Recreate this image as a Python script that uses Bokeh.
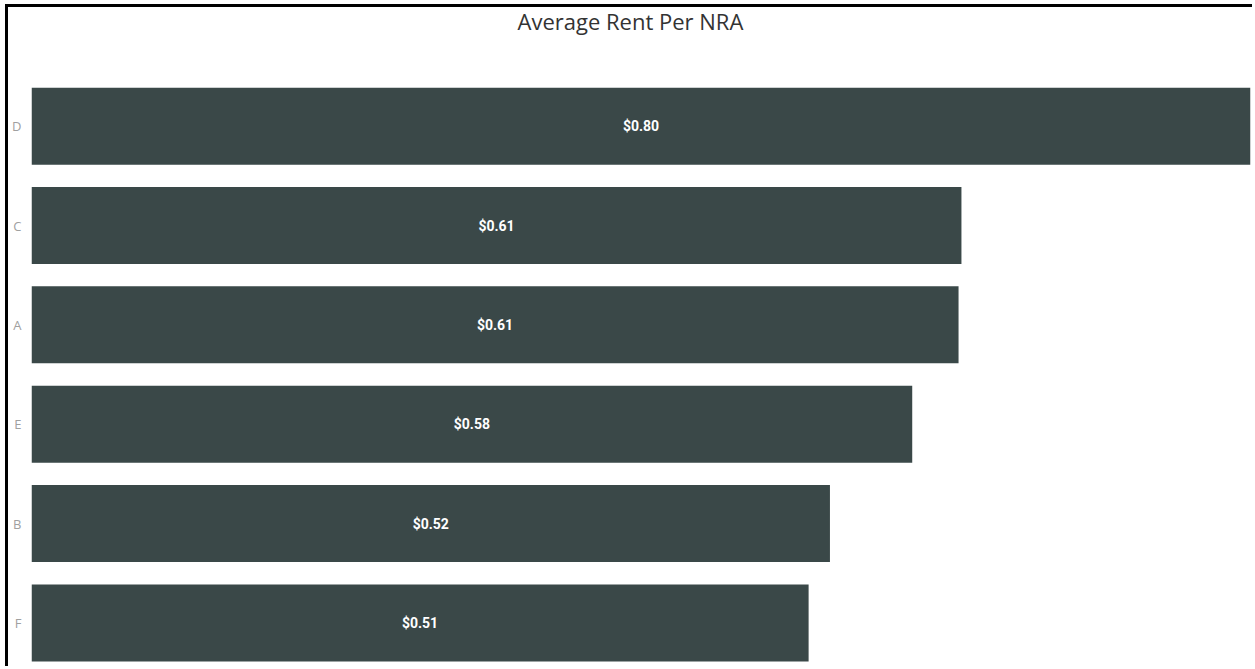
from bokeh.plotting import figure
from bokeh.models import ColumnDataSource, Range1d, FixedTicker, LabelSet, Title
from bokeh.core.properties import value
from bokeh.embed import file_html
from bokeh.resources import INLINE

categories = ["D", "C", "A", "E", "B", "F"]
values = [0.80, 0.6103, 0.6084, 0.578, 0.524, 0.510]
labels = ["$0.80", "$0.61", "$0.61", "$0.58", "$0.52", "$0.51"]

n = len(categories)
ypos = [n - 1 - i for i in range(n)]
src = ColumnDataSource(dict(
    y=ypos, v=values, half=[v / 2 for v in values], lab=labels, cat=categories))

p = figure(width=1247, height=662, output_backend="svg", toolbar_location=None,
           x_range=Range1d(0, 0.80), y_range=Range1d(-0.469, n - 0.5),
           min_border_left=23, min_border_right=5, min_border_top=69, min_border_bottom=0)
p.styles = {"border-left": "3px solid black", "border-top": "3px solid black",
            "margin-left": "5px", "margin-top": "4px"}

p.hbar(y="y", right="v", left=0, height=0.775, source=src,
       fill_color="#3a4848", line_color=None)

p.add_layout(LabelSet(x="half", y="y", text="lab", source=src,
                      text_align="center", text_baseline="middle",
                      text_color="white", text_font=value("Roboto"),
                      text_font_style=value("bold"), text_font_size=value("14px")))

# spacer panel between the frame and the title
p.add_layout(Title(text=" ", text_font_size="1px", standoff=39), "above")
p.add_layout(Title(text="Average Rent Per NRA", align="left", offset=486,
                   vertical_align="top",
                   text_font="Open Sans", text_font_style="normal",
                   text_font_size="22px", text_color="#333333", standoff=-6), "above")

p.xaxis.visible = False
p.yaxis.ticker = FixedTicker(ticks=ypos)
p.yaxis.major_label_overrides = {y: c for y, c in zip(ypos, categories)}
p.yaxis.axis_line_color = None
p.yaxis.major_tick_line_color = None
p.yaxis.minor_tick_line_color = None
p.yaxis.major_tick_out = 0
p.yaxis.major_tick_in = 0
p.yaxis.major_label_text_color = "#a0a0a0"
p.yaxis.major_label_text_font = "Open Sans"
p.yaxis.major_label_text_font_size = "13px"
p.yaxis.major_label_standoff = 10

p.xgrid.visible = False
p.ygrid.visible = False
p.outline_line_color = None
p.background_fill_color = "white"
p.border_fill_color = "white"

open("out.html", "w").write(file_html(p, INLINE))
